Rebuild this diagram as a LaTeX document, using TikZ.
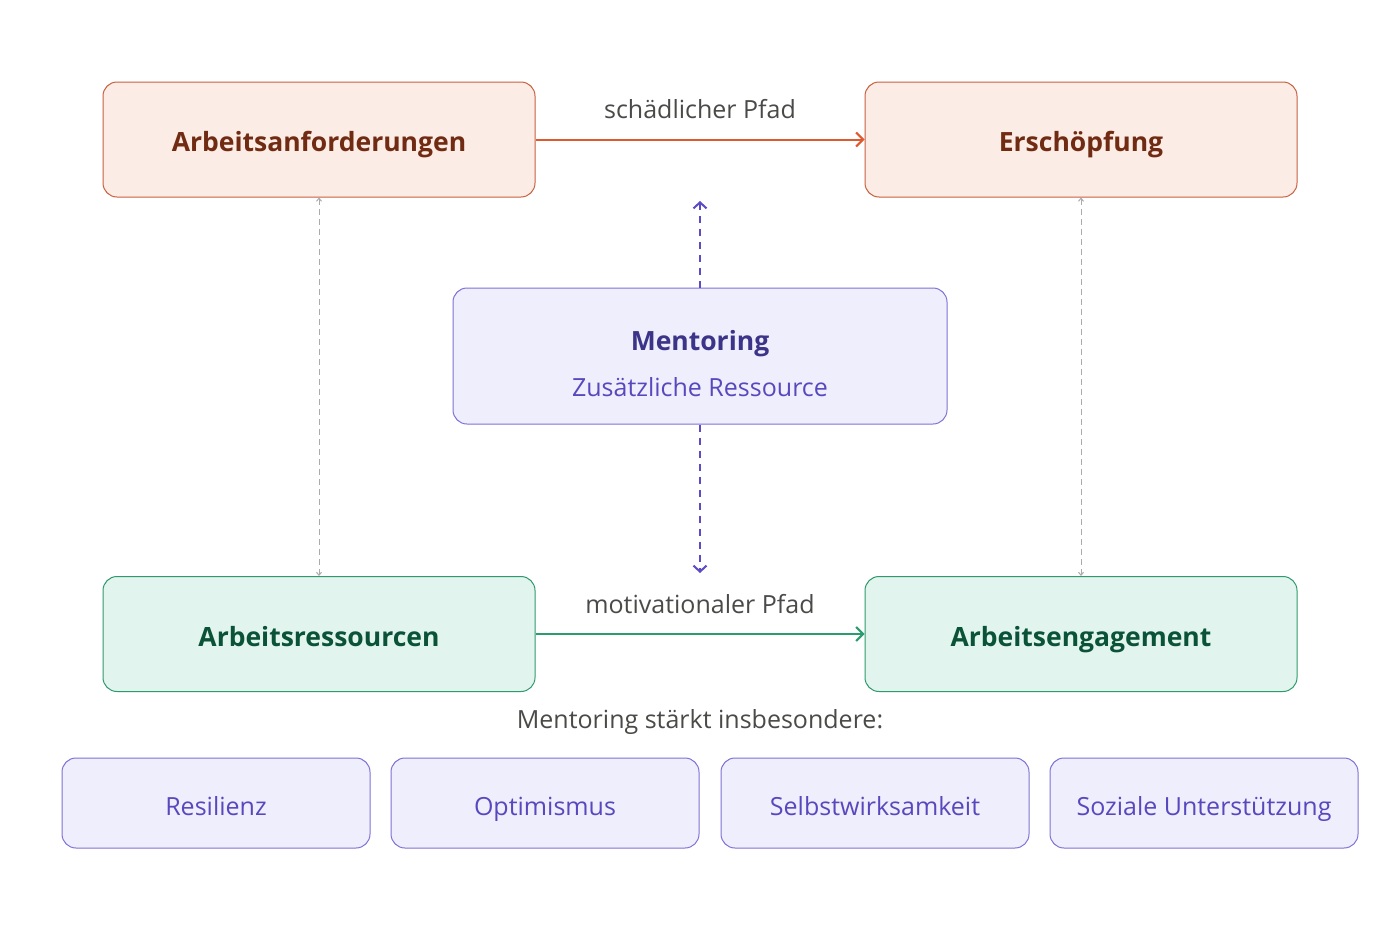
\documentclass[tikz,border=0pt]{standalone}
\usepackage{fontspec}
\setmainfont{Open Sans}
\usetikzlibrary{arrows.meta}
\definecolor{redfill}{HTML}{FBECE6}
\definecolor{reddraw}{HTML}{C9603F}
\definecolor{redtext}{HTML}{712B13}
\definecolor{redarrow}{HTML}{E0582E}
\definecolor{greenfill}{HTML}{E1F5EE}
\definecolor{greendraw}{HTML}{2F9A6E}
\definecolor{greentext}{HTML}{0B5338}
\definecolor{greenarrow}{HTML}{2A9C6E}
\definecolor{purpfill}{HTML}{EEEEFC}
\definecolor{purpdraw}{HTML}{7F72D6}
\definecolor{purptitle}{HTML}{3C3489}
\definecolor{purptext}{HTML}{5848BE}
\definecolor{purparrow}{HTML}{5B4BC4}
\definecolor{labeltext}{HTML}{4A4A48}
\definecolor{greyline}{HTML}{ABABAB}
\tikzset{
  fixh/.style={text height=24pt, text depth=0pt},
  bigbox/.style={rounded corners=14pt, minimum width=432pt, minimum height=115pt, line width=1pt, inner sep=0pt,
    font=\fontsize{26.5}{31}\selectfont\bfseries, fixh},
  redbox/.style={bigbox, fill=redfill, draw=reddraw, text=redtext},
  greenbox/.style={bigbox, fill=greenfill, draw=greendraw, text=greentext},
  smallbox/.style={rounded corners=14pt, minimum width=308pt, minimum height=90pt, line width=1pt, inner sep=0pt,
    fill=purpfill, draw=purpdraw, text=purptext, font=\fontsize{25}{29}\selectfont, fixh},
  pathlabel/.style={text=labeltext, font=\fontsize{25}{29}\selectfont, inner sep=0pt, fixh},
  mainarrow/.style={line width=2pt, -{Straight Barb[length=7pt,width=14pt,line width=2pt]}},
  greydash/.style={draw=greyline, line width=1pt, dash pattern=on 6pt off 4pt,
    {Straight Barb[length=3pt,width=5pt]}-{Straight Barb[length=3pt,width=5pt]}},
  purpdash/.style={draw=purparrow, line width=2pt, dash pattern=on 7pt off 6pt,
    -{Straight Barb[length=6pt,width=13pt,line width=2pt]}}
}
\begin{document}
\begin{tikzpicture}[x=1pt,y=-1pt]
\useasboundingbox[fill=white] (0,0) rectangle (1400,937);
\node[redbox] (A) at (319,139.5) {Arbeitsanforderungen};
\node[redbox] (E) at (1081,139.5) {Erschöpfung};
\node[greenbox] (R) at (319,634) {Arbeitsressourcen};
\node[greenbox] (G) at (1081,634) {Arbeitsengagement};
\node[rounded corners=14pt, minimum width=494pt, minimum height=136pt, line width=1pt, inner sep=0pt,
  fill=purpfill, draw=purpdraw] (M) at (700,356) {};
\node[inner sep=0pt, fixh, font=\fontsize{26.5}{31}\selectfont\bfseries, text=purptitle] (M1) at (700,338) {Mentoring};
\node[inner sep=0pt, fixh, font=\fontsize{25}{29}\selectfont, text=purptext] (M2) at (700,384) {Zusätzliche Ressource};
\node[pathlabel] (l1) at (700,106) {schädlicher Pfad};
\node[pathlabel] (l2) at (700,601) {motivationaler Pfad};
\node[pathlabel] (l3) at (700,716) {Mentoring stärkt insbesondere:};
\node[smallbox] (s1) at (216,803) {Resilienz};
\node[smallbox] (s2) at (545,803) {Optimismus};
\node[smallbox] (s3) at (875,803) {Selbstwirksamkeit};
\node[smallbox] (s4) at (1204,803) {Soziale Unterstützung};
\draw[mainarrow, redarrow] (A.east) -- (E.west);
\draw[mainarrow, greenarrow] (R.east) -- (G.west);
\draw[greydash] (A.south) -- (R.north);
\draw[greydash] (E.south) -- (G.north);
\coordinate (mt) at (700,201);
\coordinate (mb) at (700,573);
\draw[purpdash] (M.north) -- (mt);
\draw[purpdash] (M.south) -- (mb);
\end{tikzpicture}
\end{document}
